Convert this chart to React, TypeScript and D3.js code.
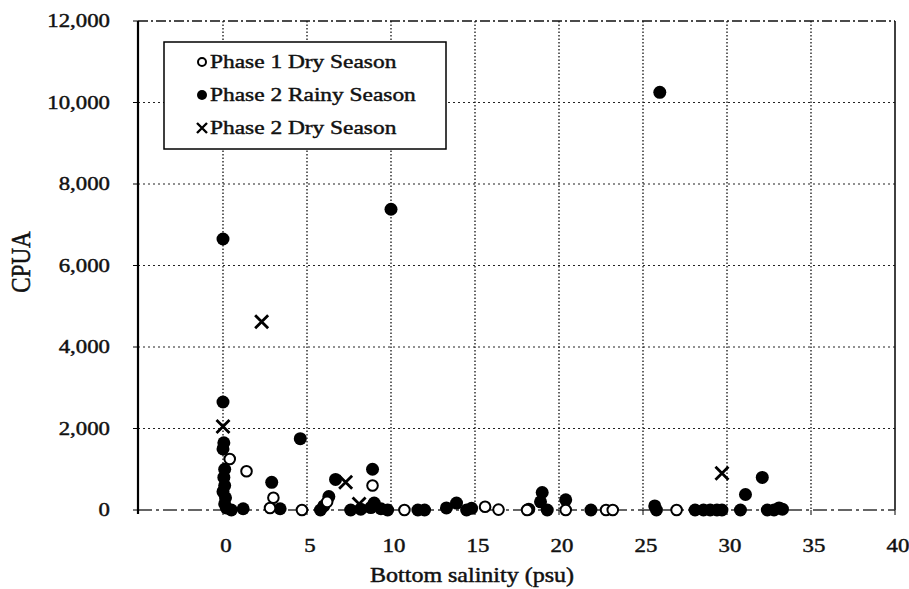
import React, { useEffect, useRef } from 'react'
import * as d3 from 'd3'

// Phase 1 Dry Season (open circles)
const p1DrySal = [0.4, 1.4, 3.0, 2.8, 4.7, 6.2, 8.9, 10.8, 15.6, 16.4, 18.1, 20.4, 22.8, 23.2, 27.0]
const p1DryCpua = [1250, 950, 300, 50, 0, 200, 600, 0, 80, 10, 0, 0, 0, 0, 0]

// Phase 2 Rainy Season (filled circles)
const p2RainySal = [0, 0, 0.05, 0, 0.1, 0.05, 0.1, 0, 0.15, 0.1, 0.2, 0.5, 1.2, 2.9, 3.4, 4.6, 5.8, 6.0, 6.3, 6.7,
  7.6, 8.2, 8.9, 9.0, 8.8, 9.4, 9.8, 10.0, 11.6, 12.0, 13.3, 13.9, 14.5, 14.8, 18.2, 18.9, 19.0, 19.3, 20.4, 21.9,
  25.7, 25.8, 26.0, 28.1, 28.6, 29.0, 29.4, 29.7, 30.8, 31.1, 32.1, 32.4, 32.8, 33.1, 33.3]
const p2RainyCpua = [6650, 2650, 1650, 1500, 1000, 800, 600, 450, 300, 150, 50, 0, 30, 680, 30, 1750, 0, 100, 330, 750,
  0, 20, 1000, 170, 60, 30, 0, 7380, 0, 0, 50, 170, 0, 40, 20, 200, 430, 0, 250, 0,
  100, 0, 10250, 0, 0, 0, 0, 0, 0, 380, 800, 0, 0, 50, 20]

// Phase 2 Dry Season (crosses)
const p2DrySal = [0, 2.3, 7.3, 8.1, 29.7]
const p2DryCpua = [2050, 4620, 680, 150, 900]

const xTicks = [0, 5, 10, 15, 20, 25, 30, 35, 40]
const yTicks = [0, 2000, 4000, 6000, 8000, 10000, 12000]
const legendLabels = ['Phase 1 Dry Season', 'Phase 2 Rainy Season', 'Phase 2 Dry Season']

const W = 909
const H = 589
const FONT = "'Liberation Serif', 'Times New Roman', Times, serif"
const SX = 1.2 // the scan is stretched sideways

export default function App() {
  const ref = useRef<SVGSVGElement>(null)

  useEffect(() => {
    const svg = d3.select(ref.current)
    svg.selectAll('*').remove()

    const left = 138, right = 895, top = 21, bottom = 510
    const x = d3.scaleLinear().domain([-5, 40]).range([left + 1, right])
    const y = d3.scaleLinear().domain([0, 12000]).range([bottom, top])

    const txt = (g: any, s: string, tx: number, ty: number, size: number, anchor: string) =>
      g.append('text').text(s)
        .attr('transform', `translate(${tx},${ty}) scale(${SX},1)`)
        .attr('text-anchor', anchor)
        .style('font-family', FONT).attr('font-size', size)
        .attr('fill', '#111').attr('stroke', '#111').attr('stroke-width', 0.45)

    // grid
    const grid = svg.append('g')
    grid.selectAll('.hg').data(yTicks.filter(d => d > 0 && d < 12000)).join('line')
      .attr('x1', left).attr('x2', right).attr('y1', d => y(d)).attr('y2', d => y(d))
      .attr('stroke', '#222').attr('stroke-width', 1).attr('stroke-dasharray', '2,3')
    grid.selectAll('.vg').data(xTicks.filter(d => d < 40)).join('line')
      .attr('y1', top).attr('y2', bottom).attr('x1', d => x(d)).attr('x2', d => x(d))
      .attr('stroke', '#111').attr('stroke-width', 1.3).attr('stroke-dasharray', '1.5,2')

    // frame
    svg.append('line').attr('x1', left).attr('x2', right).attr('y1', top).attr('y2', top)
      .attr('stroke', '#111').attr('stroke-width', 1.3).attr('stroke-dasharray', '10,3,2,3')
    svg.append('line').attr('x1', right).attr('x2', right).attr('y1', top).attr('y2', bottom)
      .attr('stroke', '#111').attr('stroke-width', 1.6)
    svg.append('line').attr('x1', left).attr('x2', right).attr('y1', bottom).attr('y2', bottom)
      .attr('stroke', '#333').attr('stroke-width', 1.3).attr('stroke-dasharray', '14,4,3,4')
    svg.append('line').attr('x1', left).attr('x2', left).attr('y1', top).attr('y2', bottom + 4)
      .attr('stroke', '#000').attr('stroke-width', 2.2)

    // ticks + labels
    const ax = svg.append('g')
    yTicks.forEach(t => {
      ax.append('line').attr('x1', left - 5).attr('x2', left).attr('y1', y(t)).attr('y2', y(t)).attr('stroke', '#000')
      txt(ax, d3.format(',')(t), 110, y(t) + 6, 19, 'end')
    })
    xTicks.forEach(t => {
      ax.append('line').attr('x1', x(t)).attr('x2', x(t)).attr('y1', bottom).attr('y2', bottom + 5).attr('stroke', '#000')
      txt(ax, String(t), x(t) + 3, 552, 19, 'middle')
    })
    txt(ax, 'Bottom salinity (psu)', 472, 582, 20, 'middle')
    ax.append('text').text('CPUA')
      .attr('transform', `translate(30,262) rotate(-90) scale(1,${SX})`)
      .attr('text-anchor', 'middle')
      .style('font-family', FONT).attr('font-size', 23)
      .attr('fill', '#111').attr('stroke', '#111').attr('stroke-width', 0.45)

    // marks
    const cross = (g: any, cx: number, cy: number, s: number, w: number) =>
      g.append('path').attr('d', `M${cx - s},${cy - s}L${cx + s},${cy + s}M${cx - s},${cy + s}L${cx + s},${cy - s}`)
        .attr('stroke', '#000').attr('stroke-width', w).attr('fill', 'none')

    const marks = svg.append('g')
    marks.selectAll('.rainy').data(d3.range(p2RainySal.length)).join('circle')
      .attr('cx', i => x(p2RainySal[i])).attr('cy', i => y(p2RainyCpua[i])).attr('r', 6.5).attr('fill', '#000')
    marks.selectAll('.p1').data(d3.range(p1DrySal.length)).join('circle')
      .attr('cx', i => x(p1DrySal[i])).attr('cy', i => y(p1DryCpua[i])).attr('r', 5.3)
      .attr('fill', '#fff').attr('stroke', '#000').attr('stroke-width', 2)
    p2DrySal.forEach((s, i) => cross(marks, x(s), y(p2DryCpua[i]), 6.5, 2.8))

    // legend
    const lg = svg.append('g')
    lg.append('rect').attr('x', 164).attr('y', 42).attr('width', 282).attr('height', 107)
      .attr('fill', '#fff').attr('stroke', '#000').attr('stroke-width', 1.5)
    legendLabels.forEach((l, i) => {
      const ly = 61 + i * 33
      if (i === 0) lg.append('circle').attr('cx', 202).attr('cy', ly + 1).attr('r', 4).attr('fill', '#fff').attr('stroke', '#000').attr('stroke-width', 2)
      if (i === 1) lg.append('circle').attr('cx', 202).attr('cy', ly + 1).attr('r', 5).attr('fill', '#000')
      if (i === 2) cross(lg, 202, ly + 1, 5, 2.4)
      txt(lg, l, 210, ly + 7, 19.5, 'start')
    })
  }, [])

  return (
    <svg ref={ref} width={W} height={H} style={{ position: 'absolute', left: 0, top: 0, background: '#fff' }} />
  )
}
